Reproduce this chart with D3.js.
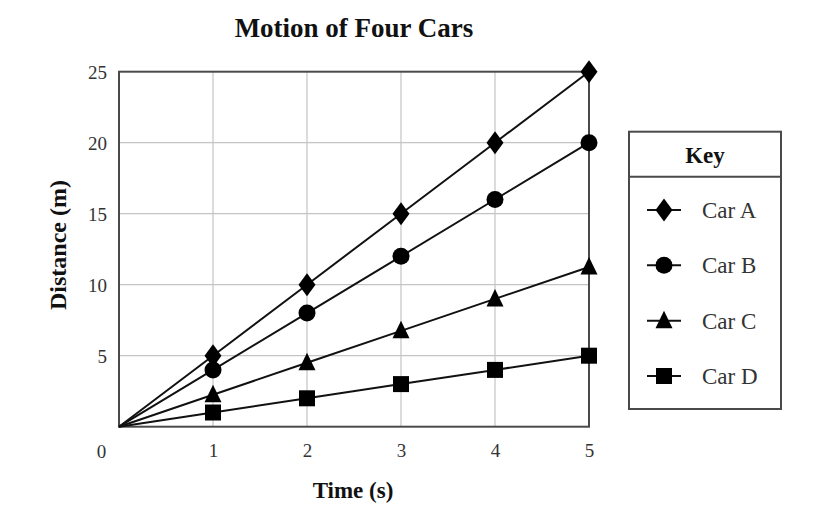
<!DOCTYPE html>
<html><head><meta charset="utf-8">
<script src="https://cdn.jsdelivr.net/npm/d3@7"></script>
<style>body{margin:0;background:#fff}svg{display:block}</style>
</head><body>
<svg id="c" width="824" height="520"></svg>
<script>
const times = [0, 1, 2, 3, 4, 5];
const carA = [0, 5, 10, 15, 20, 25];
const carB = [0, 4, 8, 12, 16, 20];
const carC = [0, 2.25, 4.5, 6.75, 9, 11.25];
const carD = [0, 1, 2, 3, 4, 5];
const seriesNames = ["Car A", "Car B", "Car C", "Car D"];
const xTicks = [1, 2, 3, 4, 5];
const yTicks = [5, 10, 15, 20, 25];

const series = [
  {name: seriesNames[0], values: carA, sym: "diamond"},
  {name: seriesNames[1], values: carB, sym: "circle"},
  {name: seriesNames[2], values: carC, sym: "triangle"},
  {name: seriesNames[3], values: carD, sym: "square"}
];

const svg = d3.select("#c");
const font = "'Liberation Serif', 'Times New Roman', serif";
const L = 119, R = 589, T = 71.7, B = 426.7;
const x = d3.scaleLinear().domain([0, 5]).range([L, R]);
const y = d3.scaleLinear().domain([0, 25]).range([B, T]);

function drawSym(g, type, cx, cy) {
  if (type === "diamond") {
    g.append("path").attr("d", `M${cx},${cy-11.5}L${cx+8.5},${cy}L${cx},${cy+11.5}L${cx-8.5},${cy}Z`).attr("fill", "#000");
  } else if (type === "circle") {
    g.append("circle").attr("cx", cx).attr("cy", cy).attr("r", 8.5).attr("fill", "#000");
  } else if (type === "triangle") {
    g.append("path").attr("d", `M${cx},${cy-10}L${cx+8.5},${cy+7.5}L${cx-8.5},${cy+7.5}Z`).attr("fill", "#000");
  } else {
    g.append("rect").attr("x", cx-8).attr("y", cy-8).attr("width", 16).attr("height", 16).attr("fill", "#000");
  }
}

// grid
const grid = svg.append("g");
grid.selectAll("line.v").data(xTicks.slice(0, -1)).join("line")
  .attr("x1", d => x(d)).attr("x2", d => x(d)).attr("y1", T).attr("y2", B)
  .attr("stroke", "#c4c4c4").attr("stroke-width", 1.2);
grid.selectAll("line.h").data(yTicks.slice(0, -1)).join("line")
  .attr("x1", L).attr("x2", R).attr("y1", d => y(d)).attr("y2", d => y(d))
  .attr("stroke", "#c4c4c4").attr("stroke-width", 1.2);

// frame
svg.append("rect").attr("x", L).attr("y", T).attr("width", R - L).attr("height", B - T)
  .attr("fill", "none").attr("stroke", "#4a4a4a").attr("stroke-width", 2);

// tick labels via axes
const xAxis = svg.append("g").attr("transform", `translate(0,${B})`)
  .call(d3.axisBottom(x).tickValues(xTicks).tickSize(0).tickPadding(17).tickFormat(d3.format("d")));
const yAxis = svg.append("g").attr("transform", `translate(${L},0)`)
  .call(d3.axisLeft(y).tickValues(yTicks).tickSize(0).tickPadding(12).tickFormat(d3.format("d")));
[xAxis, yAxis].forEach(a => {
  a.select(".domain").remove();
  a.attr("font-family", font).attr("font-size", 19);
  a.selectAll("text").attr("font-family", font).attr("font-size", 19).attr("fill", "#333");
});
yAxis.selectAll("text").attr("dy", "0.36em");
svg.append("text").attr("x", 101.5).attr("y", 458).attr("text-anchor", "middle")
  .attr("font-family", font).attr("font-size", 19).attr("fill", "#333").text("0");

// lines and markers
const line = d3.line().x((d, i) => x(times[i])).y(d => y(d));
series.forEach(s => {
  svg.append("path").datum(s.values).attr("d", line)
    .attr("fill", "none").attr("stroke", "#111").attr("stroke-width", 2);
  const g = svg.append("g");
  s.values.forEach((v, i) => { if (i > 0) drawSym(g, s.sym, x(times[i]), y(v)); });
});

// titles
svg.append("text").attr("x", 354).attr("y", 37).attr("text-anchor", "middle")
  .attr("font-family", font).attr("font-weight", "bold").attr("font-size", 27).attr("fill", "#111")
  .text("Motion of Four Cars");
svg.append("text").attr("x", 353).attr("y", 498).attr("text-anchor", "middle")
  .attr("font-family", font).attr("font-weight", "bold").attr("font-size", 23).attr("fill", "#111")
  .text("Time (s)");
svg.append("text").attr("transform", "translate(66,245) rotate(-90)").attr("text-anchor", "middle")
  .attr("font-family", font).attr("font-weight", "bold").attr("font-size", 24).attr("fill", "#111")
  .text("Distance (m)");

// legend
const lg = svg.append("g");
lg.append("rect").attr("x", 629).attr("y", 131.7).attr("width", 152).attr("height", 277.3)
  .attr("fill", "#fff").attr("stroke", "#4a4a4a").attr("stroke-width", 2);
lg.append("line").attr("x1", 629).attr("x2", 781).attr("y1", 176.7).attr("y2", 176.7)
  .attr("stroke", "#4a4a4a").attr("stroke-width", 2);
lg.append("text").attr("x", 705).attr("y", 163).attr("text-anchor", "middle")
  .attr("font-family", font).attr("font-weight", "bold").attr("font-size", 23).attr("fill", "#111").text("Key");
const ly = d3.scalePoint().domain(seriesNames).range([210, 376]);
series.forEach(s => {
  const cy = ly(s.name);
  lg.append("line").attr("x1", 647).attr("x2", 681).attr("y1", cy).attr("y2", cy)
    .attr("stroke", "#111").attr("stroke-width", 2);
  drawSym(lg, s.sym, 664, cy);
  lg.append("text").attr("x", 702).attr("y", cy + 8).attr("font-family", font)
    .attr("font-size", 23).attr("fill", "#333").text(s.name);
});
</script>
</body></html>
